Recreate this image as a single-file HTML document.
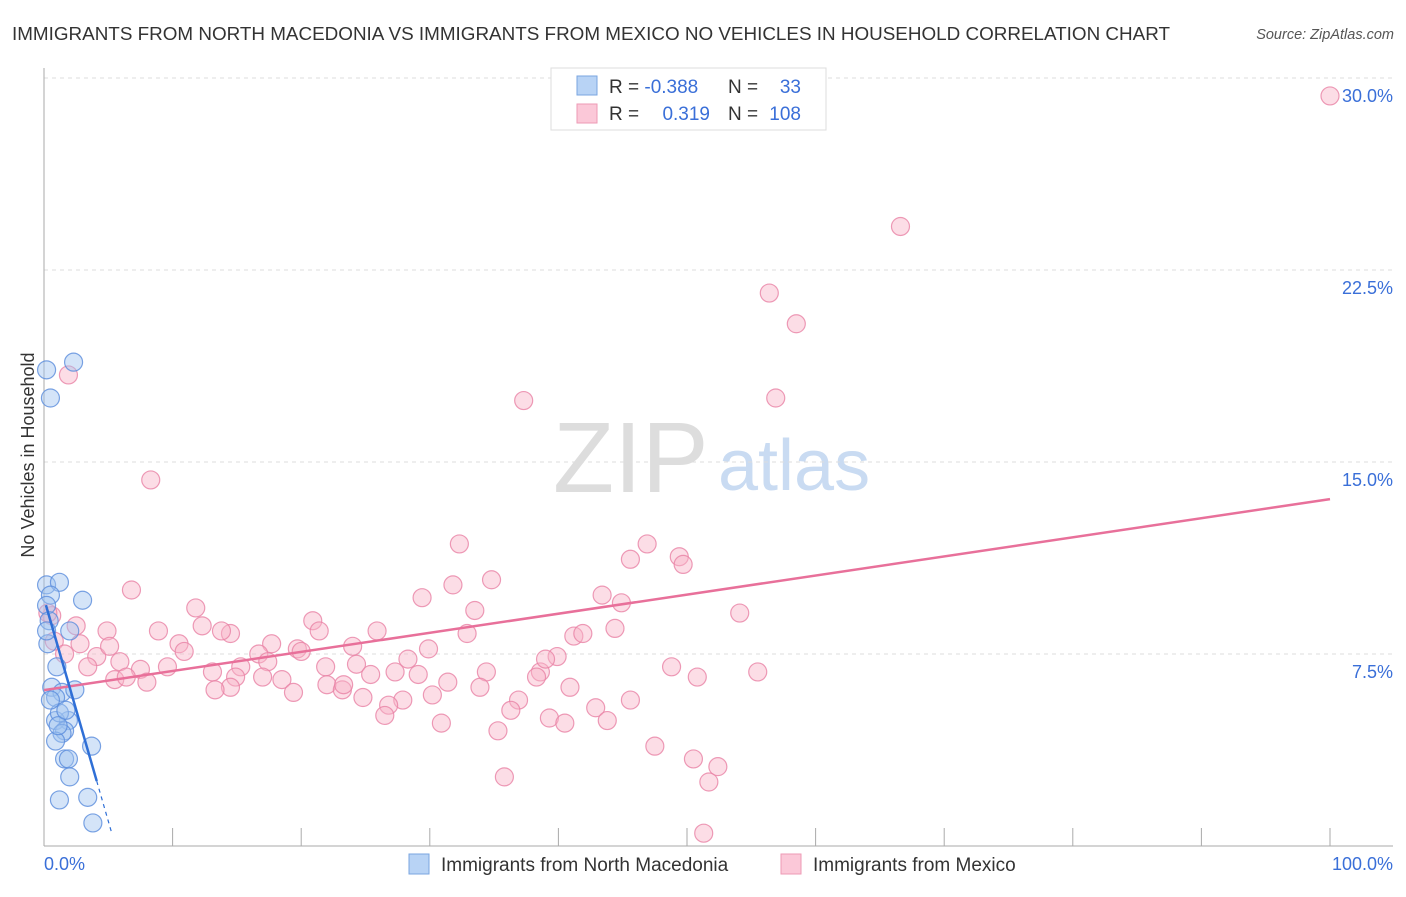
<!DOCTYPE html>
<html><head><meta charset="utf-8"><style>
body{margin:0;background:#fff;font-family:"Liberation Sans",sans-serif}
svg text{font-family:"Liberation Sans",sans-serif}
</style></head><body>
<svg id="chart" width="1406" height="892" xmlns="http://www.w3.org/2000/svg">
<text x="12" y="40" font-size="18.8" fill="#333" textLength="1158" lengthAdjust="spacingAndGlyphs">IMMIGRANTS FROM NORTH MACEDONIA VS IMMIGRANTS FROM MEXICO NO VEHICLES IN HOUSEHOLD CORRELATION CHART</text>
<text x="1394" y="39" font-size="14.5" fill="#555" font-style="italic" text-anchor="end">Source: ZipAtlas.com</text>
<g>
<text x="553" y="492" font-size="100" font-family="Liberation Serif" fill="#ddd">ZIP</text>
<text x="718" y="490" font-size="72" fill="#c9dbf2">atlas</text>
</g>
<text transform="translate(34,455) rotate(-90)" font-size="18" fill="#333" text-anchor="middle">No Vehicles in Household</text>
<g id="grid"></g><g id="axes"></g><g id="marks"></g>
<g>
<rect x="551" y="68" width="275" height="62" fill="#fff" stroke="#ddd"/>
<rect x="577" y="76" width="20" height="19" fill="#b8d3f5" stroke="#7aa6e0"/>
<rect x="577" y="104" width="20" height="19" fill="#fbc8d8" stroke="#ee9ab5"/>
<text x="609" y="93" font-size="19" fill="#333">R = <tspan fill="#3a6fd8">-0.388</tspan></text>
<text x="728" y="93" font-size="19" fill="#333">N =</text><text x="801" y="93" font-size="19" fill="#3a6fd8" text-anchor="end">33</text>
<text x="609" y="120" font-size="19" fill="#333">R = </text><text x="710" y="120" font-size="19" fill="#3a6fd8" text-anchor="end">0.319</text>
<text x="728" y="120" font-size="19" fill="#333">N =</text><text x="801" y="120" font-size="19" fill="#3a6fd8" text-anchor="end">108</text>
</g>
<g>
<rect x="409" y="854" width="20" height="20" fill="#b8d3f5" stroke="#7aa6e0"/>
<text x="441" y="871" font-size="19" fill="#333">Immigrants from North Macedonia</text>
<rect x="781" y="854" width="20" height="20" fill="#fbc8d8" stroke="#ee9ab5"/>
<text x="813" y="871" font-size="19" fill="#333">Immigrants from Mexico</text>
</g>
</svg>
<script>
const yTicks=[7.5,15,22.5,30];
const yTickLabels=["7.5%","15.0%","22.5%","30.0%"];
const xTickLabels=["0.0%","100.0%"];
const blueX=[0.2,2.3,0.5,0.2,1.2,0.5,3.0,0.2,0.4,2.0,0.3,1.0,0.6,1.4,2.4,0.9,1.9,0.9,1.2,1.6,1.4,0.9,3.7,1.6,1.9,2.0,1.2,3.4,3.8,0.2,0.5,1.1,1.7];
const blueY=[18.6,18.9,17.5,10.2,10.3,9.8,9.6,9.4,8.8,8.4,7.9,7.0,6.2,6.0,6.1,5.8,4.9,4.9,5.2,4.5,4.4,4.1,3.9,3.4,3.4,2.7,1.8,1.9,0.9,8.4,5.7,4.7,5.3];
const pinkX=[100,66.6,56.4,58.5,56.9,37.3,1.9,8.3,32.3,46.9,49.4,45.6,49.7,34.8,31.8,6.8,29.4,43.4,44.9,54.1,33.5,11.8,20.9,12.3,14.5,13.8,4.9,8.9,21.4,25.9,32.9,44.4,41.2,41.9,17.7,10.5,19.7,24.0,29.9,39.9,0.6,2.5,0.8,4.1,5.9,7.5,9.6,10.9,13.1,15.3,16.7,17.4,20.0,24.3,28.3,34.4,38.6,39.0,48.8,55.5,50.8,17.0,21.9,3.4,5.5,8.0,6.4,14.9,18.5,25.4,27.3,29.1,31.4,14.5,22.0,23.2,23.3,33.9,38.3,13.3,19.4,27.9,30.2,36.9,40.9,24.8,26.8,26.5,42.9,45.6,36.3,39.3,40.5,43.8,30.9,35.3,47.5,50.5,52.4,51.7,35.8,51.3,1.6,0.3,2.8,5.1];
const pinkY=[29.3,24.2,21.6,20.4,17.5,17.4,18.4,14.3,11.8,11.8,11.3,11.2,11.0,10.4,10.2,10.0,9.7,9.8,9.5,9.1,9.2,9.3,8.8,8.6,8.3,8.4,8.4,8.4,8.4,8.4,8.3,8.5,8.2,8.3,7.9,7.9,7.7,7.8,7.7,7.4,9.0,8.6,8.0,7.4,7.2,6.9,7.0,7.6,6.8,7.0,7.5,7.2,7.6,7.1,7.3,6.8,6.8,7.3,7.0,6.8,6.6,6.6,7.0,7.0,6.5,6.4,6.6,6.6,6.5,6.7,6.8,6.7,6.4,6.2,6.3,6.1,6.3,6.2,6.6,6.1,6.0,5.7,5.9,5.7,6.2,5.8,5.5,5.1,5.4,5.7,5.3,5.0,4.8,4.9,4.8,4.5,3.9,3.4,3.1,2.5,2.7,0.5,7.5,9.1,7.9,7.8];
const pinkTrend=[6.09,13.55]; // y at x=0 and x=100
const blueTrend=[9.67,-1.74]; // intercept, slope per %
const NS="http://www.w3.org/2000/svg";
const X=v=>44+v*12.86, Y=v=>846-v*25.6;
function mk(tag,attrs,parent){const e=document.createElementNS(NS,tag);for(const k in attrs)e.setAttribute(k,attrs[k]);document.getElementById(parent).appendChild(e);return e;}
yTicks.forEach((t,i)=>{
 const g=mk('line',{x1:44,x2:1393,y1:Y(t),y2:Y(t),stroke:'#ddd','stroke-dasharray':'4,4'},'grid');
 
 
 const l=mk('text',{x:1393,y:Y(t)+24,'font-size':18,fill:'#3a6fd8','text-anchor':'end'},'grid');
 
 
 l.textContent=yTickLabels[i];
});
const ax=mk('line',{x1:44,x2:1393,y1:846,y2:846,stroke:'#aaa'},'axes');


const ay=mk('line',{x1:44,x2:44,y1:68,y2:846,stroke:'#aaa'},'axes');


for(let i=0;i<=10;i++){const t=mk('line',{x1:X(i*10),x2:X(i*10),y1:828,y2:846,stroke:'#aaa'},'axes');
 
 }
[[0,'start',44],[100,'end',1393]].forEach((d,i)=>{const t=mk('text',{x:d[2],y:870,'font-size':18,fill:'#3a6fd8','text-anchor':d[1]},'axes');
 
 
 t.textContent=xTickLabels[i];});
pinkX.forEach((x,i)=>{const c=mk('circle',{cx:X(x),cy:Y(pinkY[i]),r:9,fill:'rgba(248,180,200,0.45)',stroke:'rgba(232,130,165,0.8)','stroke-width':1.2},'marks');
 
 });
blueX.forEach((x,i)=>{const c=mk('circle',{cx:X(x),cy:Y(blueY[i]),r:9,fill:'rgba(160,195,240,0.45)',stroke:'rgba(90,140,220,0.8)','stroke-width':1.2},'marks');
 
 });
const pl=mk('line',{x1:X(0),y1:Y(pinkTrend[0]),x2:X(100),y2:Y(pinkTrend[1]),stroke:'#e8709a','stroke-width':2.5},'marks');


const bY=x=>blueTrend[0]+blueTrend[1]*x;
const bl=mk('line',{x1:X(0.15),y1:Y(bY(0.15)),x2:X(4.1),y2:Y(bY(4.1)),stroke:'#2f6fd6','stroke-width':2.5},'marks');


const bd=mk('line',{x1:X(4.1),y1:Y(bY(4.1)),x2:X(5.3),y2:Y(bY(5.3)),stroke:'#2f6fd6','stroke-width':1.2,'stroke-dasharray':'4,4'},'marks');


</script>
</body></html>
